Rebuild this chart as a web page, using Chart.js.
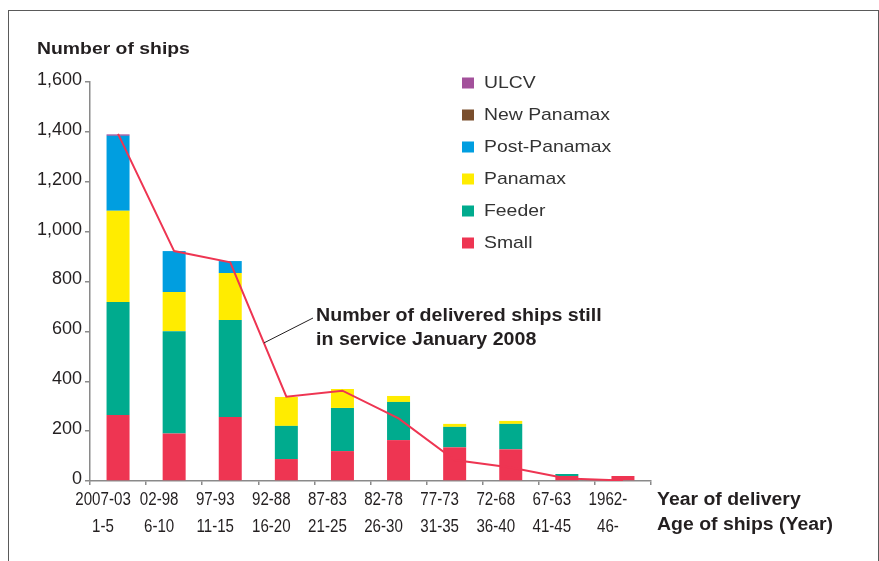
<!DOCTYPE html>
<html>
<head>
<meta charset="utf-8">
<title>Container ships in service by year of delivery</title>
<script src="https://cdn.jsdelivr.net/npm/chart.js@4.4.1/dist/chart.umd.min.js"></script>
<style>
  html, body { margin: 0; padding: 0; background: #fff; }
  #wrap { position: relative; width: 879px; height: 561px; overflow: hidden; }
  #frame {
    position: absolute; left: 8px; top: 10px; width: 871px; height: 560px;
    border: 1.5px solid #5a5a5a; border-bottom: none;
    box-sizing: border-box; pointer-events: none;
  }
</style>
</head>
<body>
<div id="wrap">
  <canvas id="chart" width="879" height="561"></canvas>
  <div id="frame"></div>
</div>
<script>
// Categories (two label rows under each bar)
const deliveryYears = ['2007-03', '02-98', '97-93', '92-88', '87-83', '82-78', '77-73', '72-68', '67-63', '1962-'];
const shipAges = ['1-5', '6-10', '11-15', '16-20', '21-25', '26-30', '31-35', '36-40', '41-45', '46-'];

// Ships delivered per size class
const small       = [265, 190, 257, 88, 120, 164, 135, 127, 20, 20];
const feeder      = [453, 411, 389, 133, 173, 153, 82, 102, 8, 0];
const panamax     = [366, 157, 188, 116, 76, 24, 12, 12, 0, 0];
const postPanamax = [300, 164, 48, 0, 0, 0, 0, 0, 0, 0];
const newPanamax  = [0, 0, 0, 0, 0, 0, 0, 0, 0, 0];
const ulcv        = [6, 0, 0, 0, 0, 0, 0, 0, 0, 0];

// Ships from each period still in service
const stillInService = [1392, 922, 877, 338, 362, 251, 84, 54, 10, 2];

// Y axis range
const yMax = 1600;
const yStep = 200;

const TEXT = '#231f20';
const AXIS = '#8a8a8a';
const SANS = '"Liberation Sans", Arial, sans-serif';

// text squeezed or widened horizontally around its left / centre anchor
function drawText(ctx, str, x, y, font, sx, align) {
  ctx.save();
  ctx.font = font;
  ctx.textAlign = align || 'left';
  ctx.translate(x, y);
  ctx.scale(sx, 1);
  ctx.fillText(str, 0, 0);
  ctx.restore();
}

// Titles, category labels, legend and the callout
const overlay = {
  id: 'overlay',
  afterDraw(chart) {
    const ctx = chart.ctx;
    const xs = chart.scales.x;
    ctx.save();
    ctx.fillStyle = TEXT;
    ctx.textBaseline = 'middle';

    // y axis title
    drawText(ctx, 'Number of ships', 37, 49, 'bold 17px ' + SANS, 1.14);

    // category labels, two rows, condensed
    deliveryYears.forEach((yr, i) => {
      const cx = xs.getPixelForValue(i) - 15;
      drawText(ctx, yr, cx, 500, '18px ' + SANS, 0.84, 'center');
      drawText(ctx, shipAges[i], cx, 527, '18px ' + SANS, 0.84, 'center');
    });
    drawText(ctx, 'Year of delivery', 657, 500, 'bold 18px ' + SANS, 1.08);
    drawText(ctx, 'Age of ships (Year)', 657, 525, 'bold 18px ' + SANS, 1.08);

    // callout for the red line
    const pts = chart.getDatasetMeta(0).data;
    const ax = pts[2].x + (pts[3].x - pts[2].x) * 0.6;
    const ay = pts[2].y + (pts[3].y - pts[2].y) * 0.6;
    ctx.strokeStyle = TEXT;
    ctx.lineWidth = 1;
    ctx.beginPath();
    ctx.moveTo(ax, ay);
    ctx.lineTo(313, 318);
    ctx.stroke();
    drawText(ctx, 'Number of delivered ships still', 316, 316, 'bold 18px ' + SANS, 1.09);
    drawText(ctx, 'in service January 2008', 316, 340, 'bold 18px ' + SANS, 1.09);

    // legend, largest class on top
    const bars = chart.data.datasets.filter(d => d.type === 'bar').slice().reverse();
    bars.forEach((ds, i) => {
      const cy = 83 + i * 32;
      ctx.fillStyle = ds.backgroundColor;
      ctx.fillRect(462, cy - 5.5, 12, 11);
      ctx.fillStyle = '#333';
      drawText(ctx, ds.label, 484, cy, '17px ' + SANS, 1.14);
    });
    ctx.restore();
  }
};

function barSet(label, data, color) {
  return {
    type: 'bar',
    label,
    data,
    backgroundColor: color,
    borderWidth: 0,
    stack: 'ships',
    barPercentage: 0.41,
    categoryPercentage: 1
  };
}

new Chart(document.getElementById('chart'), {
  data: {
    labels: deliveryYears,
    datasets: [
      {
        type: 'line',
        label: 'Number of delivered ships still in service January 2008',
        data: stillInService,
        borderColor: '#ee3552',
        borderWidth: 2,
        pointRadius: 0,
        tension: 0,
        stack: 'line'
      },
      barSet('Small', small, '#ee3552'),
      barSet('Feeder', feeder, '#00ab8e'),
      barSet('Panamax', panamax, '#ffec00'),
      barSet('Post-Panamax', postPanamax, '#009ee0'),
      barSet('New Panamax', newPanamax, '#7a4e2d'),
      barSet('ULCV', ulcv, '#a3519b')
    ]
  },
  options: {
    responsive: false,
    devicePixelRatio: 1,
    animation: false,
    layout: { padding: { top: 82, right: 228, bottom: 0, left: 0 } },
    plugins: {
      legend: { display: false },
      tooltip: { enabled: false }
    },
    scales: {
      x: {
        stacked: true,
        offset: true,
        border: { color: AXIS, width: 1.5 },
        grid: { offset: true, drawOnChartArea: false, drawTicks: true, tickLength: 4, color: AXIS, lineWidth: 1.5 },
        ticks: { display: false, autoSkip: false },
        afterFit: s => { s.height = 80; }
      },
      y: {
        stacked: true,
        min: 0,
        max: yMax,
        border: { color: AXIS, width: 1.5 },
        grid: { drawOnChartArea: false, drawTicks: true, tickLength: 5, color: AXIS, lineWidth: 1.5 },
        ticks: {
          stepSize: yStep,
          color: TEXT,
          padding: 3,
          labelOffset: -2,
          font: { family: SANS, size: 18 },
          callback: v => v.toLocaleString('en-US')
        },
        afterFit: s => { s.width = 90; }
      }
    }
  },
  plugins: [overlay]
});
</script>
</body>
</html>
